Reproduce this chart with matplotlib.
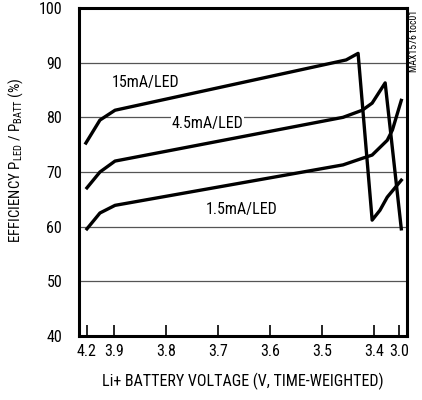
import matplotlib
matplotlib.use("Agg")
import matplotlib.pyplot as plt
from matplotlib import font_manager

# pick a narrow sans face if one is installed
names = {f.name for f in font_manager.fontManager.ttflist}
fam = "Liberation Sans"
fs = 10.5
for cand in ["Liberation Sans Narrow", "Roboto Condensed", "Open Sans Condensed", "Noto Sans Condensed"]:
    if cand in names:
        fam = cand
        fs = 11.5
        break
plt.rcParams['font.family'] = [fam, 'DejaVu Sans']
plt.rcParams['mathtext.fontset'] = 'custom'
plt.rcParams['mathtext.rm'] = fam

# time-weighted axis: positions of the voltage ticks (arbitrary units)
tick_pos = [0.0, 0.52, 1.52, 2.52, 3.52, 4.52, 5.52, 6.0]
tick_lbl = ["4.2", "3.9", "3.8", "3.7", "3.6", "3.5", "3.4", "3.0"]

# 15mA/LED
x15 = [-0.02, 0.25, 0.54, 4.98, 5.21, 5.48, 5.63, 5.77, 6.04]
y15 = [75.3, 79.5, 81.3, 90.5, 91.7, 61.2, 63.0, 65.4, 68.5]
# 4.5mA/LED
x45 = [0.0, 0.25, 0.54, 4.92, 5.29, 5.48, 5.73, 6.04]
y45 = [67.1, 70.0, 72.0, 80.0, 81.3, 82.6, 86.3, 59.6]
# 1.5mA/LED
x15b = [0.0, 0.25, 0.54, 4.92, 5.29, 5.48, 5.77, 5.87, 6.04]
y15b = [59.6, 62.5, 63.9, 71.3, 72.5, 73.1, 75.8, 77.7, 83.1]

fig = plt.figure(figsize=(4.22, 4.0), dpi=100)
ax = fig.add_axes([0.187, 0.16, 0.7775, 0.82])

for yy in [50, 60, 70, 80, 90]:
    ax.axhline(yy, color="#555555", lw=0.9, zorder=1)

ax.plot(x15, y15, "k", lw=2.4, zorder=3)
ax.plot(x45, y45, "k", lw=2.4, zorder=3)
ax.plot(x15b, y15b, "k", lw=2.4, zorder=3)

ax.text(1.12, 86.4, "15mA/LED", fontsize=fs, ha="center", va="center", zorder=4)
ax.text(2.31, 78.8, "4.5mA/LED", fontsize=fs, ha="center", va="center", zorder=4,
        bbox=dict(facecolor="white", edgecolor="none", pad=0.5))
ax.text(2.98, 63.2, "1.5mA/LED", fontsize=fs, ha="center", va="center", zorder=4)

ax.set_xlim(-0.154, 6.15)
ax.set_ylim(40, 100)
ax.set_xticks(tick_pos)
ax.set_xticklabels(tick_lbl)
ax.set_yticks([40, 50, 60, 70, 80, 90, 100])
ax.tick_params(axis="x", direction="in", length=8, width=1.2, labelsize=fs, pad=6)
ax.tick_params(axis="y", length=0, labelsize=fs, pad=12)
for s in ax.spines.values():
    s.set_linewidth(2.2)

ax.set_xlabel("Li+ BATTERY VOLTAGE (V, TIME-WEIGHTED)", fontsize=fs, labelpad=10)
fig.text(0.036, 0.6, r"EFFICIENCY P$_{\mathregular{LED}}$ / P$_{\mathregular{BATT}}$ (%)",
         fontsize=fs - 0.8, rotation=90, ha="center", va="center")

fig.text(0.981, 0.975, "MAX1576 toc01", rotation=90, fontsize=7, ha="center", va="top")

fig.savefig("out.png", dpi=100)
